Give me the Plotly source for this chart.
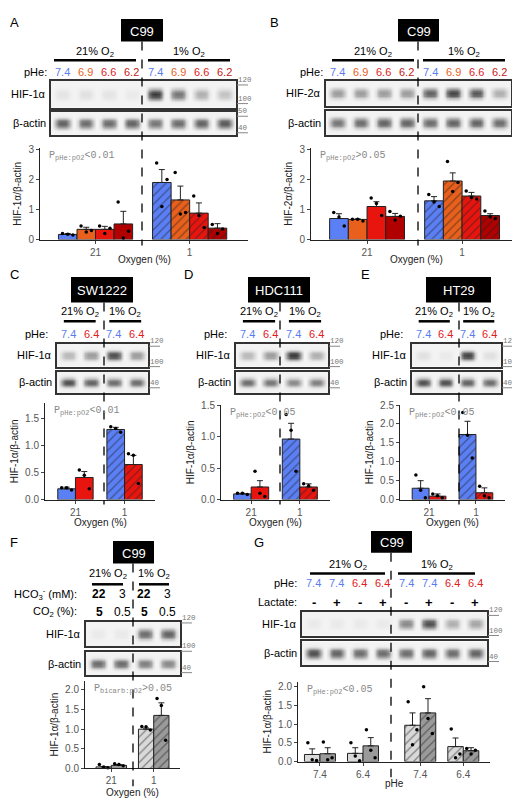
import plotly.graph_objects as go

W, H = 520, 798

# ---------------- data ----------------
blue, orange, red, dred = "#5b7ff5", "#e8601c", "#e8150f", "#b00000"
light, dark = "#d9d9d9", "#9a9a9a"

# A: C99 HIF-1a, pHe x pO2
a_groups = ["21", "1"]
a_conds = ["7.4", "6.9", "6.6", "6.2"]
a_mean = [[0.17, 1.90], [0.34, 1.32], [0.34, 0.88], [0.52, 0.38]]
a_err = [[0.03, 0.43], [0.07, 0.46], [0.10, 0.34], [0.42, 0.15]]
a_pts = [[[0.20, 0.18, 0.15], [2.55, 1.10, 2.00]],
         [[0.45, 0.25, 0.30], [2.23, 0.85, 0.90]],
         [[0.45, 0.20, 0.38], [1.45, 0.80, 0.40]],
         [[1.25, 0.05, 0.28], [0.50, 0.20, 0.35]]]
a_hif = [0.08, 0.10, 0.08, 0.05, 0.95, 0.65, 0.35, 0.25]
a_act = [0.75, 0.70, 0.70, 0.75, 0.65, 0.70, 0.75, 0.80]

# B: C99 HIF-2a
b_mean = [[0.70, 1.29], [0.67, 1.95], [1.10, 1.45], [0.77, 0.80]]
b_err = [[0.16, 0.14], [0.02, 0.27], [0.16, 0.12], [0.10, 0.06]]
b_pts = [[[0.90, 0.75, 0.45], [1.50, 1.25, 1.10]],
         [[0.68, 0.68, 0.62], [2.60, 1.60, 1.90]],
         [[1.38, 1.20, 0.80], [1.62, 1.40, 1.35]],
         [[0.93, 0.65, 0.78], [0.95, 0.75, 0.70]]]
b_hif = [0.45, 0.45, 0.45, 0.45, 0.75, 0.90, 0.80, 0.35]
b_act = [0.65, 0.70, 0.75, 0.75, 0.70, 0.75, 0.75, 0.70]

# C/D/E: two pHe conditions
ce_conds = ["7.4", "6.4"]
c_mean = [[0.20, 1.30], [0.41, 0.65]]
c_err = [[0.03, 0.04], [0.11, 0.17]]
c_pts = [[[0.22, 0.22, 0.18], [1.35, 1.32, 1.25]], [[0.55, 0.45, 0.20], [0.85, 0.82, 0.30]]]
c_hif = [0.30, 0.45, 0.85, 0.45]
c_act = [0.85, 0.75, 0.70, 0.70]

d_mean = [[0.09, 0.96], [0.20, 0.20]]
d_err = [[0.01, 0.25], [0.10, 0.05]]
d_pts = [[[0.10, 0.10, 0.08], [1.35, 1.10, 0.45]], [[0.45, 0.10, 0.05], [0.25, 0.22, 0.15]]]
d_hif = [0.30, 0.45, 0.95, 0.35]
d_act = [0.70, 0.65, 0.55, 0.60]

e_mean = [[0.30, 1.72], [0.09, 0.18]]
e_err = [[0.20, 0.35], [0.06, 0.13]]
e_pts = [[[0.65, 0.25, 0.05], [2.30, 1.70, 1.10]], [[0.15, 0.10, 0.05], [0.35, 0.10, 0.05]]]
e_hif = [0.10, 0.05, 0.90, 0.10]
e_act = [0.85, 0.85, 0.75, 0.70]

# F: bicarbonate / CO2
f_hco3 = ["22", "3", "22", "3"]
f_co2 = ["5", "0.5", "5", "0.5"]
f_mean = [[0.04, 1.00], [0.08, 1.35]]
f_err = [[0.01, 0.03], [0.02, 0.32]]
f_pts = [[[0.10, 0.04, 0.02], [1.07, 1.06, 0.98]], [[0.12, 0.10, 0.07], [1.78, 1.60, 0.72]]]
f_hif = [0.05, 0.05, 0.70, 0.75]
f_act = [0.70, 0.70, 0.60, 0.55]

# G: pHe x lactate x pO2
g_ph = ["7.4", "7.4", "6.4", "6.4", "7.4", "7.4", "6.4", "6.4"]
g_lac = ["-", "+", "-", "+", "-", "+", "-", "+"]
g_ticks = ["7.4", "6.4", "7.4", "6.4"]
g_mean = [[0.19, 0.22, 0.97, 0.40], [0.21, 0.42, 1.30, 0.29]]
g_err = [[0.15, 0.15, 0.33, 0.23], [0.16, 0.22, 0.38, 0.08]]
g_pts = [[[0.50, 0.05, 0.03], [0.50, 0.15, 0.02], [1.60, 0.45, 0.85], [0.87, 0.10, 0.20]],
         [[0.52, 0.05, 0.10], [0.85, 0.30, 0.10], [2.00, 1.15, 0.75], [0.35, 0.20, 0.30]]]
g_hif = [0.05, 0.05, 0.05, 0.05, 0.55, 0.85, 0.35, 0.40]
g_act = [0.85, 0.75, 0.70, 0.70, 0.70, 0.75, 0.70, 0.75]

# ---------------- helpers ----------------
fig = go.Figure()
lay = {}
ann = []
shp = []
FONT = "Liberation Sans"
MONO = "Liberation Mono"
nax = [0]


def px(x):
    return x / W


def py(y):
    return 1 - y / H


def text(x, y, s, size=11, color="black", anchor="center", font=FONT, bold=False):
    if bold:
        s = "<b>" + s + "</b>"
    ann.append(dict(x=px(x), y=py(y), xref="paper", yref="paper", text=s, showarrow=False,
                    xanchor=anchor, yanchor="middle", borderpad=0,
                    font=dict(size=size, color=color, family=font)))


def line(x0, y0, x1, y1, width=1, color="black", dash="solid"):
    shp.append(dict(type="line", xref="paper", yref="paper", x0=px(x0), y0=py(y0), x1=px(x1), y1=py(y1),
                    line=dict(width=width, color=color, dash=dash)))


def new_axes(x0, x1, y0, y1):
    nax[0] += 1
    n = nax[0]
    s = "" if n == 1 else str(n)
    return n, s, dict(domain=[px(x0), px(x1)]), dict(domain=[py(y1), py(y0)])


def blot(x0, x1, y0, y1, lanes, label, marks):
    n, s, xa, ya = new_axes(x0, x1, y0, y1)
    cols = [0.0, 0.25, 0.7, 0.95, 1, 1, 0.95, 0.7, 0.25, 0.0]
    rows = [0.0, 0.0, 0.05, 0.35, 0.85, 1, 0.85, 0.35, 0.05, 0.0, 0.0]
    z, xs = [], []
    for i in range(len(lanes)):
        for j in range(len(cols)):
            xs.append(i + (j + 0.5) / len(cols))
    for r in rows:
        z.append([0.03 + 0.85 * r * lanes[i] * c for i in range(len(lanes)) for c in cols])
    fig.add_trace(go.Heatmap(z=z, x=xs, y=list(range(len(rows))), colorscale=[[0, "#fafafa"], [1, "#151515"]],
                             zmin=0, zmax=1, zsmooth="best", showscale=False, hoverinfo="skip",
                             xaxis="x" + s, yaxis="y" + s))
    common = dict(showticklabels=False, ticks="", showgrid=False, zeroline=False, showline=True,
                  mirror=True, linecolor="#333", linewidth=1.5)
    lay["xaxis" + s] = dict(xa, range=[0, len(lanes)], anchor="y" + s, **common)
    lay["yaxis" + s] = dict(ya, range=[0, len(rows) - 1], anchor="x" + s, **common)
    text(x0 - 4, (y0 + y1) / 2, label, 11, anchor="right")
    for frac, m in marks:
        yy = y0 + frac * (y1 - y0)
        line(x1 + 1, yy, x1 + 12, yy, 1, "#888")
        text(x1 + 1, yy - 5, m, 7.5, "#777", anchor="left", font=MONO)


def bars(x0, x1, y0, y1, ymax, dtick, fmt, means, errs, pts, colors, patterns, xpos, xticks,
         xrange, bw, xtitle, ptext):
    n, s, xa, ya = new_axes(x0, x1, y0, y1)
    nc = len(means)
    for k in range(nc):
        off = -nc * bw / 2 + k * bw
        fig.add_trace(go.Bar(x=xpos, y=means[k], width=bw, offset=off,
                             marker=dict(color=colors[k], line=dict(color="#222", width=1),
                                         pattern=dict(shape=patterns, fgcolor="#222", size=6, solidity=0.2)),
                             error_y=dict(type="data", symmetric=False, array=errs[k],
                                          arrayminus=[0] * len(xpos), color="#222", thickness=1, width=3),
                             xaxis="x" + s, yaxis="y" + s, showlegend=False))
        px_, py_ = [], []
        for g, vals in enumerate(pts[k]):
            for j, v in enumerate(vals):
                px_.append(xpos[g] + off + bw / 2 + (j - 1) * 0.28 * bw)
                py_.append(v)
        fig.add_trace(go.Scatter(x=px_, y=py_, mode="markers", marker=dict(size=3.5, color="black"),
                                 xaxis="x" + s, yaxis="y" + s, showlegend=False, cliponaxis=False))
    lay["xaxis" + s] = dict(xa, range=xrange, anchor="y" + s, tickvals=xpos,
                            ticktext=xticks, showline=True, linecolor="#222", linewidth=1, ticks="outside",
                            ticklen=3, tickcolor="#444", showgrid=False, zeroline=False,
                            tickfont=dict(size=10, color="#555", family=FONT))
    lay["yaxis" + s] = dict(ya, range=[0, ymax], anchor="x" + s, dtick=dtick, tickformat=fmt,
                            showline=True, linecolor="#222", linewidth=1, ticks="outside", ticklen=3,
                            tickcolor="#444", showgrid=False, zeroline=False,
                            tickfont=dict(size=10, color="#555", family=FONT),
                            title=dict(text=ptext[0], font=dict(size=10, color="#222", family=FONT), standoff=4))
    text(x0 + 8, y0 + 8, ptext[1], 10, "#888", anchor="left", font=MONO)
    text((x0 + x1) / 2, xtitle[1], xtitle[0], 10, "#222")


def header(bx0, bx1, by0, by1, name, dash_x, dash_y1, o2):
    shp.append(dict(type="rect", xref="paper", yref="paper", x0=px(bx0), x1=px(bx1), y0=py(by1), y1=py(by0),
                    fillcolor="black", line=dict(width=0)))
    text((bx0 + bx1) / 2, (by0 + by1) / 2 + 1, name, 13, "white")
    line(dash_x, by1, dash_x, dash_y1, 1.3, "black", "dash")
    ty, ly, l1, l2 = o2
    for (a, b), lab in zip([l1, l2], ["21% O<sub>2</sub>", "1% O<sub>2</sub>"]):
        line(a, ly, b, ly, 2.5)
        text((a + b) / 2, ty, lab, 11)


def lane_labels(x0, x1, n, y, labels, colors, size=11, bold=False):
    for i in range(n):
        text(x0 + (i + 0.5) * (x1 - x0) / n, y, labels[i], size, colors[i], bold=bold)


ph4 = ["7.4", "6.9", "6.6", "6.2"] * 2
phc4 = ["#5b7cf0", "#e8611f", "#e0201b", "#c41818"] * 2
c4 = [blue, orange, red, dred]
hatch = ["", "/"]

# ---- A ----
text(6, 9, "A", 13)
header(113, 155, 5, 28, "C99", 134, 235, (39, 47, (46, 128), (140, 222)))
text(40, 59, "pHe:", 11, anchor="right")
lane_labels(43, 228, 8, 59, ph4, phc4)
blot(43, 228, 68, 95, a_hif, "HIF-1α", [(0.15, "120"), (0.85, "100")])
blot(43, 228, 99, 123, a_act, "β-actin", [(0.2, "50"), (0.9, "40")])
bars(32, 240, 136, 229, 3.05, 1, "d", a_mean, a_err, a_pts, c4, hatch, [0, 1], a_groups,
     [-0.59, 1.62], 0.197, ("Oxygen (%)", 249), ("HIF-1α/β-actin", "P<sub>pHe:pO2</sub><0.01"))

# ---- B ----
text(266, 9, "B", 13)
header(390, 431, 5, 28, "C99", 410, 235, (39, 47, (324, 406), (415, 497)))
text(316, 59, "pHe:", 11, anchor="right")
lane_labels(318, 503, 8, 59, ph4, phc4)
blot(318, 503, 68, 93, b_hif, "HIF-2α", [(0.45, "100")])
blot(318, 503, 98, 123, b_act, "β-actin", [(0.95, "40")])
bars(303, 513, 136, 229, 3.05, 1, "d", b_mean, b_err, b_pts, c4, hatch, [0, 1], a_groups,
     [-0.59, 1.62], 0.197, ("Oxygen (%)", 249), ("HIF-2α/β-actin", "P<sub>pHe:pO2</sub>>0.05"))

# ---- C, D, E ----
ph2 = ["7.4", "6.4"] * 2
phc2 = ["#5b7cf0", "#e0201b"] * 2
c2 = [blue, red]
for (L, lx, nm, box, dx, bl, ax, ymax, dt, mean, err, pts, hif, act, pt) in [
        ("C", 6, "SW1222", (63, 125), 96, (49, 140), (37, 147), 1.79, 0.5, c_mean, c_err, c_pts, c_hif, c_act,
         "P<sub>pHe:pO2</sub><0.01"),
        ("D", 180, "HDC111", (240, 302), 272, (228, 320), (213, 322), 1.5, 0.5, d_mean, d_err, d_pts, d_hif,
         d_act, "P<sub>pHe:pO2</sub><0.05"),
        ("E", 357, "HT29", (418, 483), 451, (404, 493), (392, 497), 2.5, 0.5, e_mean, e_err, e_pts, e_hif,
         e_act, "P<sub>pHe:pO2</sub><0.05")]:
    text(lx, 264, L, 13)
    w = (bl[1] - bl[0]) / 4
    header(box[0], box[1], 267, 293, nm, dx, 498,
           (303, 312, (bl[0] + 0.3 * w, bl[0] + 1.7 * w), (bl[0] + 2.3 * w, bl[0] + 3.7 * w)))
    text(bl[0] - 8, 325, "pHe:", 11, anchor="right")
    lane_labels(bl[0], bl[1], 4, 325, ph2, phc2)
    blot(bl[0], bl[1], 335, 358, hif, "HIF-1α", [(0.1, "120"), (1.0, "100")])
    blot(bl[0], bl[1], 363, 385, act, "β-actin", [(0.75, "40")])
    bars(ax[0], ax[1], 395 if L == "C" else 397, 493, ymax, dt, ".1f", mean, err, pts, c2, hatch, [0, 1],
         ["21", "1"], [-0.62, 1.62], 0.36, ("Oxygen (%)", 516), ("HIF-1α/β-actin", pt))

# ---- F ----
text(6, 537, "F", 13)
header(105, 146, 535, 558, "C99", 125, 784, (569, 579, (84, 115), (131, 161)))
text(70, 589, "HCO<sub>3</sub><sup>-</sup> (mM):", 11, anchor="right")
text(70, 607, "CO<sub>2</sub> (%):", 11, anchor="right")
for i, xx in enumerate([91, 114, 136, 159]):
    text(xx, 589, f_hco3[i], 12, bold=(i % 2 == 0))
    text(xx, 607, f_co2[i], 12, bold=(i % 2 == 0))
blot(78, 172, 617, 642, f_hif, "HIF-1α", [(0.05, "120"), (1.2, "100")])
blot(78, 172, 648, 671, f_act, "β-actin", [(0.9, "40")])
bars(77, 172, 677, 766, 2.23, 0.5, ".1f", f_mean, f_err, f_pts, [light, dark], hatch, [0, 1],
     ["21", "1"], [-0.62, 1.62], 0.36, ("Oxygen (%)", 790), ("HIF-1α/β-actin", "P<sub>bicarb:pO2</sub>>0.05"))

# ---- G ----
text(251, 537, "G", 13)
header(363, 404, 525, 547, "C99", 383, 775, (559, 568, (302, 377), (390, 467)))
text(290, 578, "pHe:", 11, anchor="right")
lane_labels(294, 479, 8, 578, g_ph, [("#5b7cf0" if p == "7.4" else "#e0201b") for p in g_ph])
text(290, 597, "Lactate:", 11, anchor="right")
lane_labels(294, 479, 8, 597, g_lac, ["black"] * 8, 13, True)
blot(294, 479, 607, 631, g_hif, "HIF-1α", [(0.15, "120"), (1.0, "100")])
blot(294, 479, 637, 661, g_act, "β-actin", [(0.85, "40")])
bars(290, 482, 678, 759, 2.13, 0.5, ".1f", g_mean, g_err, g_pts, [light, dark], ["", "", "/", "/"],
     [0, 1, 2.33, 3.33], g_ticks, [-0.51, 3.95], 0.36, ("pHe", 781),
     ("HIF-1α/β-actin", "P<sub>pHe:pO2</sub><0.05"))

fig.update_layout(width=W, height=H, margin=dict(l=0, r=0, t=0, b=0), plot_bgcolor="white",
                  paper_bgcolor="white", annotations=ann, shapes=shp, barmode="overlay",
                  font=dict(family=FONT), **lay)
fig.write_html("out.html")
